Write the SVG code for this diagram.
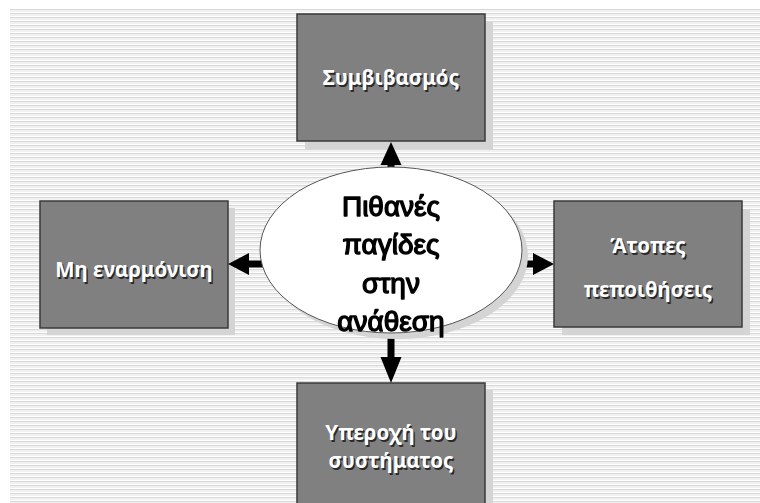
<svg xmlns="http://www.w3.org/2000/svg" width="760" height="503" viewBox="0 0 760 503">
  <defs>
    <pattern id="stripes" x="0" y="9" width="8" height="4" patternUnits="userSpaceOnUse">
      <rect x="0" y="0" width="8" height="1.4" fill="#d9d9d9"/>
      <rect x="0" y="2" width="8" height="1" fill="#f1f1f1"/>
    </pattern>
    <filter id="soft" x="-5%" y="-5%" width="110%" height="110%">
      <feGaussianBlur stdDeviation="0.35"/>
    </filter>
  </defs>
  <style>
    .shadow { fill: #d4d4d4; }
    .box { fill: #808080; stroke: #3a3a3a; stroke-width: 1.5; }
    .label { font-family: "Noto Sans", "DejaVu Sans", sans-serif; font-weight: bold; font-size: 20.5px; fill: #ffffff; text-anchor: middle; }
    .label-shadow { font-family: "Noto Sans", "DejaVu Sans", sans-serif; font-weight: bold; font-size: 20.5px; fill: #2a2a2a; text-anchor: middle; }
    .core { font-family: "Liberation Sans", Arial, sans-serif; font-size: 28px; fill: #000000; stroke: #000000; stroke-width: 1.4; stroke-linejoin: round; text-anchor: middle; }
    .arrow { fill: #000000; }
  </style>

  <!-- striped backdrop -->
  <rect x="0" y="0" width="760" height="503" fill="#ffffff"/>
  <rect x="10" y="9" width="750" height="494" fill="url(#stripes)"/>

  <!-- outer boxes -->
  <g id="node-compromise">
    <rect class="shadow" x="305" y="22" width="188" height="127"/>
    <rect class="box" x="297" y="14" width="188" height="127"/>
    <text class="label-shadow" x="392.5" y="86.5">Συμβιβασμός</text>
    <text class="label" x="391" y="85">Συμβιβασμός</text>
  </g>

  <g id="node-mismatch">
    <rect class="shadow" x="47" y="208" width="188" height="127"/>
    <rect class="box" x="40" y="201" width="188" height="127"/>
    <text class="label-shadow" x="135.5" y="278.5">Μη εναρμόνιση</text>
    <text class="label" x="134" y="277">Μη εναρμόνιση</text>
  </g>

  <g id="node-beliefs">
    <rect class="shadow" x="562" y="209" width="188" height="126"/>
    <rect class="box" x="554" y="201" width="188" height="126"/>
    <text class="label-shadow" x="649.5" y="254.5">Άτοπες</text>
    <text class="label" x="648" y="253">Άτοπες</text>
    <text class="label-shadow" x="649.5" y="298.5">πεποιθήσεις</text>
    <text class="label" x="648" y="297">πεποιθήσεις</text>
  </g>

  <g id="node-superiority">
    <rect class="shadow" x="305" y="390" width="188" height="130"/>
    <rect class="box" x="297" y="383" width="188" height="130"/>
    <text class="label-shadow" x="392.5" y="441.5">Υπεροχή του</text>
    <text class="label" x="391" y="440">Υπεροχή του</text>
    <text class="label-shadow" x="392.5" y="469.5">συστήματος</text>
    <text class="label" x="391" y="468">συστήματος</text>
  </g>

  <!-- connectors from the centre ellipse -->
  <g id="connectors">
    <!-- up -->
    <rect class="arrow" x="387.5" y="163" width="7" height="8"/>
    <polygon class="arrow" points="391,142 380.5,165 401.5,165"/>
    <!-- left -->
    <rect class="arrow" x="246" y="260.5" width="18" height="7"/>
    <polygon class="arrow" points="228,264 249,253 249,275"/>
    <!-- right -->
    <rect class="arrow" x="522" y="260.5" width="13" height="7"/>
    <polygon class="arrow" points="554,264 533,253 533,275"/>
    <!-- down -->
    <rect class="arrow" x="387.5" y="333" width="7" height="25"/>
    <polygon class="arrow" points="391,383 380.5,357 401.5,357"/>
  </g>

  <!-- centre ellipse -->
  <g id="node-pitfalls">
    <ellipse cx="397" cy="256" rx="131" ry="83" fill="#d4d4d4"/>
    <ellipse cx="391" cy="250" rx="131" ry="83" fill="#ffffff" stroke="#555555" stroke-width="1"/>
    <g filter="url(#soft)">
      <text class="core" x="391" y="216">Πιθανές</text>
      <text class="core" x="391" y="254">παγίδες</text>
      <text class="core" x="391" y="293">στην</text>
      <text class="core" x="391" y="331">ανάθεση</text>
    </g>
  </g>
</svg>
